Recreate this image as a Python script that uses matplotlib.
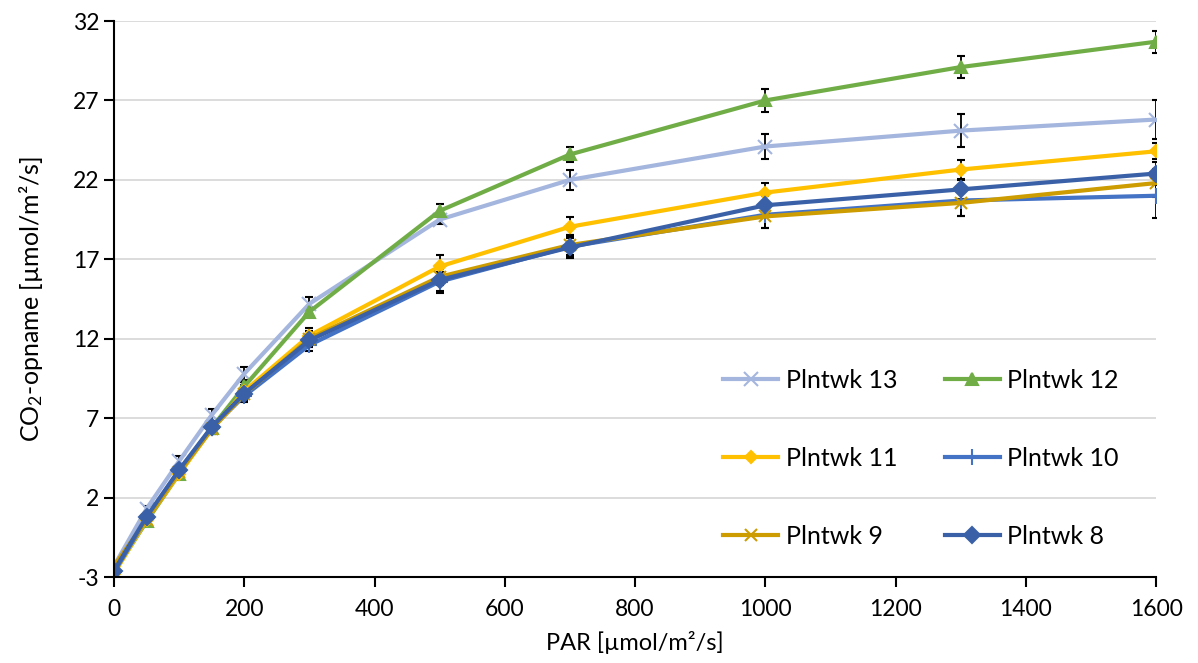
import matplotlib
matplotlib.use('Agg')
import matplotlib.pyplot as plt
import numpy as np

plt.rcParams['font.family'] = ['Lato', 'DejaVu Sans']
plt.rcParams['mathtext.default'] = 'regular'
plt.rcParams['axes.unicode_minus'] = False

par = [0, 50, 100, 150, 200, 300, 500, 700, 1000, 1300, 1600]

wk13 = [-2.3, 1.3, 4.3, 7.2, 9.8, 14.2, 19.5, 22.0, 24.1, 25.1, 25.8]
wk12 = [-2.7, 0.5, 3.5, 6.4, 9.0, 13.7, 20.05, 23.6, 27.0, 29.1, 30.7]
wk11 = [-2.8, 0.6, 3.5, 6.3, 8.7, 12.2, 16.55, 19.05, 21.2, 22.65, 23.8]
wk10 = [-2.7, 0.7, 3.7, 6.4, 8.4, 11.6, 15.6, 17.8, 19.8, 20.7, 21.0]
wk9 = [-2.3, 0.6, 3.6, 6.3, 8.5, 12.0, 15.9, 17.9, 19.7, 20.55, 21.8]
wk8 = [-2.6, 0.8, 3.75, 6.45, 8.55, 11.9, 15.7, 17.75, 20.4, 21.4, 22.4]

err13 = [0.1, 0.2, 0.3, 0.4, 0.4, 0.4, 0.3, 0.65, 0.8, 1.05, 1.25]
err12 = [0.1, 0.2, 0.2, 0.3, 0.3, 0.3, 0.4, 0.5, 0.7, 0.7, 0.7]
err11 = [0.1, 0.2, 0.2, 0.3, 0.4, 0.5, 0.7, 0.6, 0.6, 0.6, 0.5]
err10 = [0.1, 0.2, 0.3, 0.3, 0.4, 0.4, 0.6, 0.7, 0.8, 1.0, 1.4]
err9 = [0.1, 0.2, 0.2, 0.3, 0.4, 0.5, 0.5, 0.6, 0.7, 0.8, 0.9]
err8 = [0.1, 0.2, 0.3, 0.3, 0.4, 0.4, 0.8, 0.6, 0.6, 0.6, 0.7]

labels = ['Plntwk 13', 'Plntwk 12', 'Plntwk 11', 'Plntwk 10', 'Plntwk 9', 'Plntwk 8']
series = [wk13, wk12, wk11, wk10, wk9, wk8]
errors = [err13, err12, err11, err10, err9, err8]
colors = ['#A4B5DE', '#70AD47', '#FFC000', '#4472C4', '#CC9C00', '#3A61A8']
markers = ['x', '^', 'D', '+', 'x', 'D']
msizes = [10, 9, 6.5, 11, 9, 8.5]

fig = plt.figure(figsize=(11.98, 6.63), dpi=100)
ax = fig.add_axes([0.0952, 0.1297, 0.8698, 0.8386])

handles = {}
for y, e, c, m, ms, lab in zip(series, errors, colors, markers, msizes, labels):
    ln = ax.errorbar(par, y, yerr=e, color=c, marker=m, markersize=ms,
                     linewidth=3, mew=1.5, ecolor='black', elinewidth=1.3,
                     capsize=3.2, capthick=1.3, label=lab)
    handles[lab] = ln[0]

ax.set_xlim(0, 1600)
ax.set_ylim(-3, 32)
ax.set_xticks(np.arange(0, 1601, 200))
ax.set_yticks(np.arange(-3, 33, 5))
ax.yaxis.grid(True, color='#D9D9D9', linewidth=1.3)
ax.set_axisbelow(True)
for s in ['top', 'right']:
    ax.spines[s].set_visible(False)
for s in ['left', 'bottom']:
    ax.spines[s].set_linewidth(1.5)
ax.tick_params(axis='both', direction='out', length=7, width=1.5, labelsize=16.5)
ax.tick_params(axis='x', pad=9)

ax.set_xlabel('PAR [µmol/m²/s]', fontsize=17, labelpad=8)
ax.set_ylabel('CO$_2$-opname [µmol/m²/s]', fontsize=18, labelpad=20)

order = ['Plntwk 13', 'Plntwk 11', 'Plntwk 9', 'Plntwk 12', 'Plntwk 10', 'Plntwk 8']
leg = ax.legend([handles[k] for k in order], order, ncol=2, frameon=False,
                fontsize=18, loc='upper left', bbox_to_anchor=(0.585, 0.478),
                bbox_transform=fig.transFigure, labelspacing=2.2,
                columnspacing=1.9, handlelength=2.2, handletextpad=0.3)

plt.savefig('out.png', dpi=100)
